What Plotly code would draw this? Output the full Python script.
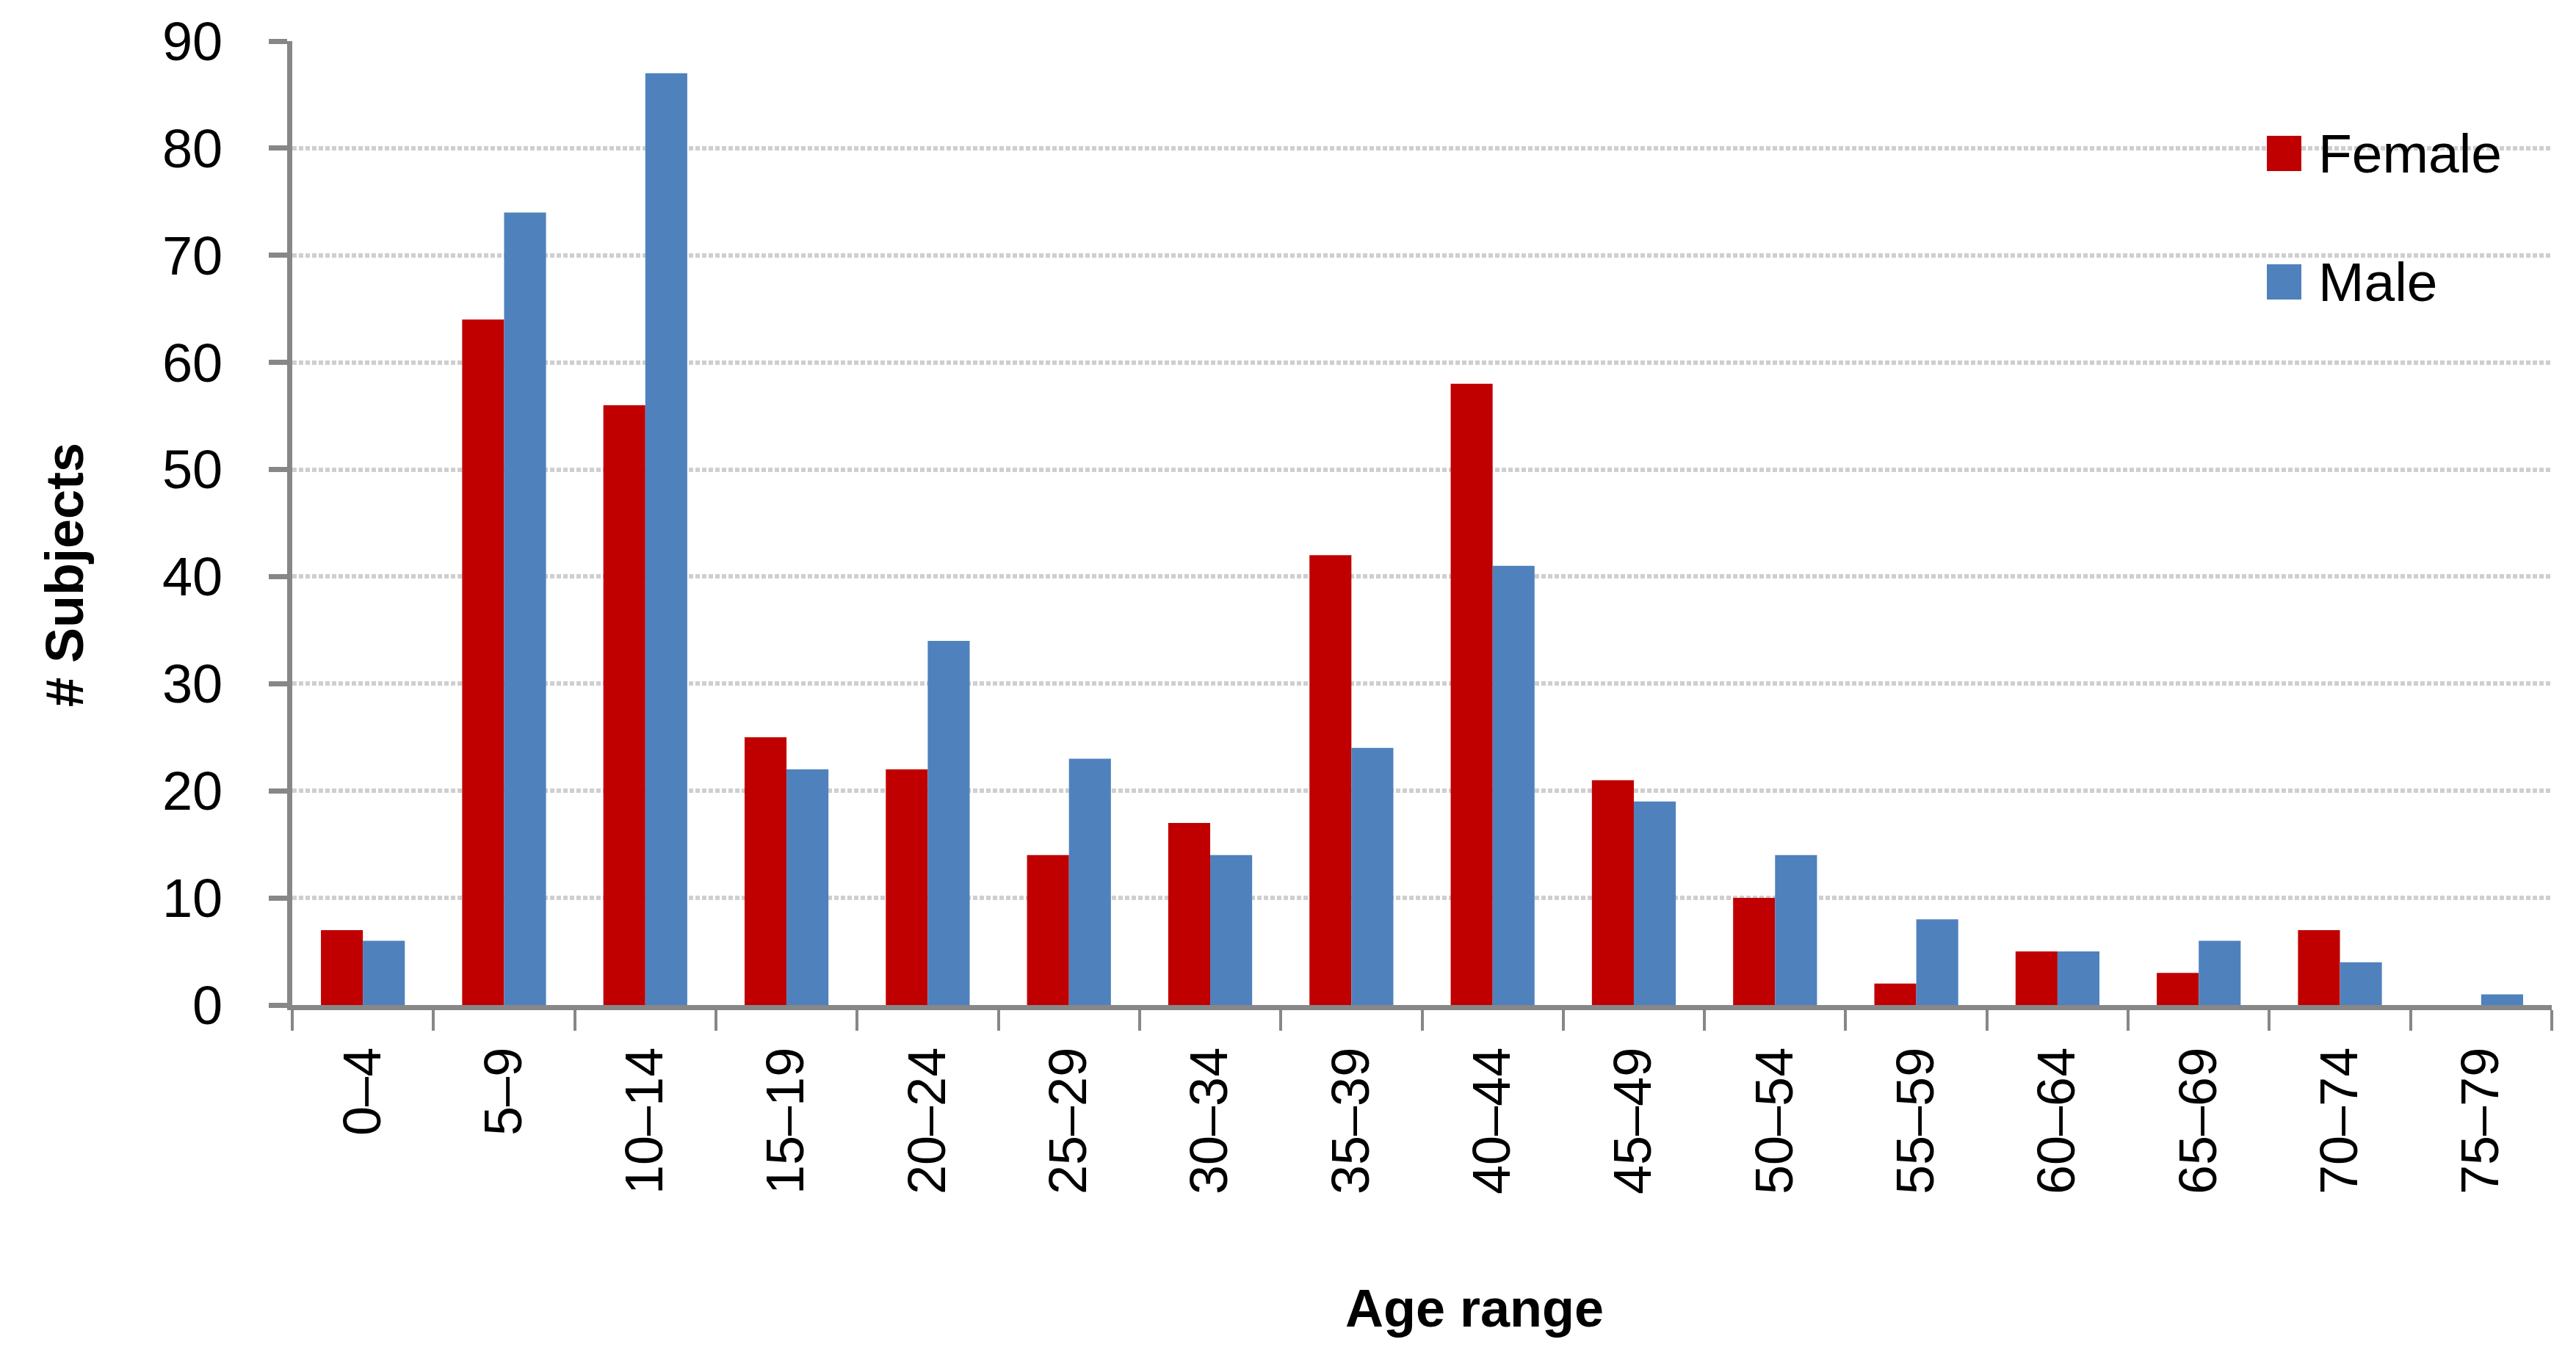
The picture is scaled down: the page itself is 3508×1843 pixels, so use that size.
import plotly.graph_objects as go

# ---- data ----
age_ranges = ["0–4", "5–9", "10–14", "15–19", "20–24", "25–29", "30–34", "35–39",
              "40–44", "45–49", "50–54", "55–59", "60–64", "65–69", "70–74", "75–79"]
female = [7, 64, 56, 25, 22, 14, 17, 42, 58, 21, 10, 2, 5, 3, 7, 0]
male = [6, 74, 87, 22, 34, 23, 14, 24, 41, 19, 14, 8, 5, 6, 4, 1]
series_names = ["Female", "Male"]
series_colors = ["#C00000", "#4F81BD"]
y_ticks = [0, 10, 20, 30, 40, 50, 60, 70, 80, 90]

W, H = 3508, 1843
ML, MR, MT, MB = 398, 33, 56, 474
PW, PH = W - ML - MR, H - MT - MB
FONT = "Liberation Sans, Arial, sans-serif"
AXIS_GREY = "#878787"


def px_x(p):
    return (p - ML) / PW


def px_y(p):
    return (H - MB - p) / PH


fig = go.Figure()
for name, vals, col in zip(series_names, [female, male], series_colors):
    fig.add_trace(go.Bar(x=age_ranges, y=vals, name=name,
                         marker=dict(color=col, line=dict(width=0)),
                         showlegend=False))

fig.update_layout(
    width=W, height=H,
    margin=dict(l=ML, r=MR, t=MT, b=MB, pad=0),
    paper_bgcolor="white", plot_bgcolor="white",
    barmode="group", bargap=0.406, bargroupgap=0,
    font=dict(family=FONT, color="black", size=72),
)

fig.update_xaxes(
    type="category", showline=True, linewidth=7, linecolor=AXIS_GREY,
    ticks="outside", tickson="boundaries", ticklen=28, tickwidth=4, tickcolor=AXIS_GREY,
    tickangle=-90, tickfont=dict(size=72, family=FONT, color="black"),
    ticklabelstandoff=22, showgrid=False, zeroline=False,
)
fig.update_yaxes(
    range=[0, 90], tickvals=y_ticks, showline=True, linewidth=7, linecolor=AXIS_GREY,
    ticks="outside", ticklen=25, tickwidth=7, tickcolor=AXIS_GREY,
    tickfont=dict(size=74, family=FONT, color="black"), ticklabelstandoff=48,
    showgrid=True, gridcolor="#CFCFCF", gridwidth=6, griddash="6px,3px",
    zeroline=False,
)

# axis titles
fig.add_annotation(text="<b>Age range</b>", xref="paper", yref="paper",
                   x=px_x(2008), y=px_y(1782), xanchor="center", yanchor="middle",
                   showarrow=False, font=dict(size=72, family=FONT, color="black"))
fig.add_annotation(text="<b># Subjects</b>", xref="paper", yref="paper",
                   x=px_x(88), y=px_y(783), xanchor="center", yanchor="middle",
                   textangle=-90, showarrow=False,
                   font=dict(size=72, family=FONT, color="black"))

# legend drawn inside plot area
legend_rows_y = [209, 384]
for name, col, cy in zip(series_names, series_colors, legend_rows_y):
    fig.add_shape(type="rect", xref="paper", yref="paper",
                  x0=px_x(3087), x1=px_x(3134), y0=px_y(cy - 24), y1=px_y(cy + 24),
                  fillcolor=col, line=dict(width=0))
    fig.add_annotation(text=name, xref="paper", yref="paper",
                       x=px_x(3155), y=px_y(cy), xanchor="left", yanchor="middle",
                       showarrow=False, font=dict(size=75, family=FONT, color="black"))

fig.write_html("out.html", config={"displayModeBar": False},
               post_script="document.body.style.margin='0';document.body.style.overflow='hidden';")
